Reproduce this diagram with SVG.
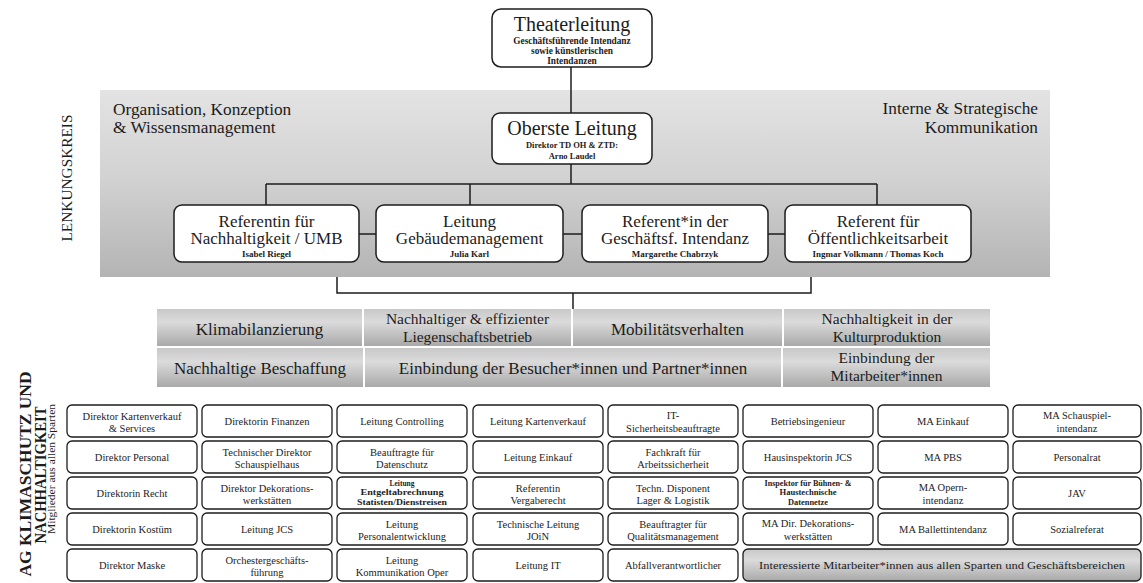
<svg xmlns="http://www.w3.org/2000/svg" width="1143" height="583" viewBox="0 0 1143 583">
<defs>
<linearGradient id="band" x1="0" y1="0" x2="0" y2="1">
<stop offset="0" stop-color="#e3e3e3"/>
<stop offset="0.45" stop-color="#d3d3d3"/>
<stop offset="1" stop-color="#b4b4b4"/>
</linearGradient>
<linearGradient id="cell" x1="0" y1="0" x2="0" y2="1">
<stop offset="0" stop-color="#c8c8c8"/>
<stop offset="0.35" stop-color="#dbdbdb"/>
<stop offset="1" stop-color="#a9a9a9"/>
</linearGradient>
<style>
text{font-family:"Liberation Serif","DejaVu Serif",serif;fill:#1c1c1c}
.box{fill:#fff;stroke:#1c1c1c;stroke-width:1.5}
.gb{fill:#fff;stroke:#1c1c1c;stroke-width:1.3}
.gg{fill:url(#cell);stroke:#1c1c1c;stroke-width:1.3}
.tc{fill:url(#cell)}
.t20{font-size:20px;text-anchor:middle}
.t16{font-size:17px;text-anchor:middle}
.sub{font-size:9.3px;font-weight:bold;text-anchor:middle}
.nm{font-size:8.5px;font-weight:bold;text-anchor:middle}
.nm4{font-size:9px;font-weight:bold;text-anchor:middle}
.g{font-size:10.5px;text-anchor:middle}
.gs{font-size:7.5px;font-weight:bold;text-anchor:middle}
.tp{font-size:17px;text-anchor:middle}
.tp2{font-size:15.5px;text-anchor:middle}
.side{font-size:17.3px}
.conn path{stroke:#1c1c1c;stroke-width:1.5;fill:none}
</style>
</defs>
<rect width="1143" height="583" fill="#fff"/>
<rect id="lenkungskreis-band" x="100" y="90" width="950" height="187" fill="url(#band)"/>

<g id="labels">
<text class="side" x="113" y="115">Organisation, Konzeption</text>
<text class="side" x="113" y="133">&amp; Wissensmanagement</text>
<text class="side" x="1038" y="114" text-anchor="end">Interne &amp; Strategische</text>
<text class="side" x="1038" y="133" text-anchor="end">Kommunikation</text>
<text transform="translate(72,178) rotate(-90)" font-size="15.5" text-anchor="middle" textLength="127" lengthAdjust="spacingAndGlyphs">LENKUNGSKREIS</text>
<text transform="translate(31,474) rotate(-90)" font-size="16.5" font-weight="bold" text-anchor="middle" textLength="205" lengthAdjust="spacingAndGlyphs">AG KLIMASCHUTZ UND</text>
<text transform="translate(46,475) rotate(-90)" font-size="16.5" font-weight="bold" text-anchor="middle" textLength="137" lengthAdjust="spacingAndGlyphs">NACHHALTIGKEIT</text>
<text transform="translate(55,469) rotate(-90)" font-size="9.5" text-anchor="middle" textLength="130" lengthAdjust="spacingAndGlyphs">Mitglieder aus allen Sparten</text>
</g>

<g class="conn" id="connectors">
<path d="M571 67 V113"/>
<path d="M571 164 V184"/>
<path d="M266 184 H877"/>
<path d="M266 184 V205 M470 184 V205 M877 184 V205"/>
<path d="M359 234 H376 M563 234 H582 M768 234 H785"/>
<path d="M337 277 V293 H811 V277"/>
<path d="M573 293 V309"/>
</g>

<g id="theaterleitung">
<rect class="box" x="492" y="9" width="160" height="58" rx="9"/>
<text class="t20" x="572" y="31">Theaterleitung</text>
<text class="sub" x="572" y="43.5">Geschäftsführende Intendanz</text>
<text class="sub" x="572" y="53.5">sowie künstlerischen</text>
<text class="sub" x="572" y="63.5">Intendanzen</text>
</g>

<g id="oberste-leitung">
<rect class="box" x="492" y="113" width="160" height="51" rx="8"/>
<text class="t20" x="572" y="134.5">Oberste Leitung</text>
<text class="nm" x="572" y="147.5">Direktor TD OH &amp; ZTD:</text>
<text class="nm" x="572" y="158.5">Arno Laudel</text>
</g>

<g id="ref-nachhaltigkeit">
<rect class="box" x="174" y="205" width="185" height="57" rx="8"/>
<text class="t16" x="266.5" y="226.5">Referentin für</text>
<text class="t16" x="266.5" y="244">Nachhaltigkeit / UMB</text>
<text class="nm4" x="266.5" y="256.5">Isabel Riegel</text>
</g>
<g id="leitung-gebaeude">
<rect class="box" x="376" y="205" width="187" height="57" rx="8"/>
<text class="t16" x="469.5" y="226.5">Leitung</text>
<text class="t16" x="469.5" y="244">Gebäudemanagement</text>
<text class="nm4" x="469.5" y="256.5">Julia Karl</text>
</g>
<g id="ref-intendanz">
<rect class="box" x="582" y="205" width="186" height="57" rx="8"/>
<text class="t16" x="675" y="226.5">Referent*in der</text>
<text class="t16" x="675" y="244">Geschäftsf. Intendanz</text>
<text class="nm4" x="675" y="256.5">Margarethe Chabrzyk</text>
</g>
<g id="ref-oeffentlichkeit">
<rect class="box" x="785" y="205" width="186" height="57" rx="8"/>
<text class="t16" x="878" y="226.5">Referent für</text>
<text class="t16" x="878" y="244">Öffentlichkeitsarbeit</text>
<text class="nm4" x="878" y="256.5">Ingmar Volkmann / Thomas Koch</text>
</g>

<g id="topics">
<g id="topic-klima"><rect class="tc" x="157" y="309" width="205" height="37"/><text class="tp" x="259.5" y="335">Klimabilanzierung</text></g>
<g id="topic-liegenschaft"><rect class="tc" x="364" y="309" width="207" height="37"/><text class="tp2" x="467.5" y="324">Nachhaltiger &amp; effizienter</text><text class="tp2" x="467.5" y="341.5">Liegenschaftsbetrieb</text></g>
<g id="topic-mobilitaet"><rect class="tc" x="573" y="309" width="209" height="37"/><text class="tp" x="677.5" y="335">Mobilitätsverhalten</text></g>
<g id="topic-kultur"><rect class="tc" x="784" y="309" width="206" height="37"/><text class="tp2" x="887" y="324">Nachhaltigkeit in der</text><text class="tp2" x="887" y="341.5">Kulturproduktion</text></g>
<g id="topic-beschaffung"><rect class="tc" x="157" y="348" width="206" height="39"/><text class="tp" x="260" y="373.5">Nachhaltige Beschaffung</text></g>
<g id="topic-besucher"><rect class="tc" x="365" y="348" width="416" height="39"/><text class="tp" x="573" y="373.5">Einbindung der Besucher*innen und Partner*innen</text></g>
<g id="topic-mitarbeiter"><rect class="tc" x="783" y="348" width="207" height="39"/><text class="tp2" x="886.5" y="363">Einbindung der</text><text class="tp2" x="886.5" y="380.5">Mitarbeiter*innen</text></g>
</g>

<g id="ag-members">
<!-- row 1 -->
<g id="m-1-1"><rect class="gb" x="67" y="405" width="130" height="32" rx="5"/><text class="g" x="132" y="420">Direktor Kartenverkauf</text><text class="g" x="132" y="431.5">&amp; Services</text></g>
<g id="m-1-2"><rect class="gb" x="202" y="405" width="130" height="32" rx="5"/><text class="g" x="267" y="425">Direktorin Finanzen</text></g>
<g id="m-1-3"><rect class="gb" x="337" y="405" width="130" height="32" rx="5"/><text class="g" x="402" y="425">Leitung Controlling</text></g>
<g id="m-1-4"><rect class="gb" x="473" y="405" width="130" height="32" rx="5"/><text class="g" x="538" y="425">Leitung Kartenverkauf</text></g>
<g id="m-1-5"><rect class="gb" x="608" y="405" width="130" height="32" rx="5"/><text class="g" x="673" y="419">IT-</text><text class="g" x="673" y="431.5">Sicherheitsbeauftragte</text></g>
<g id="m-1-6"><rect class="gb" x="743" y="405" width="130" height="32" rx="5"/><text class="g" x="808" y="425">Betriebsingenieur</text></g>
<g id="m-1-7"><rect class="gb" x="878" y="405" width="130" height="32" rx="5"/><text class="g" x="943" y="425">MA Einkauf</text></g>
<g id="m-1-8"><rect class="gb" x="1013" y="405" width="128" height="32" rx="5"/><text class="g" x="1077" y="419">MA Schauspiel-</text><text class="g" x="1077" y="431.5">intendanz</text></g>
<!-- row 2 -->
<g id="m-2-1"><rect class="gb" x="67" y="441" width="130" height="32" rx="5"/><text class="g" x="132" y="461">Direktor Personal</text></g>
<g id="m-2-2"><rect class="gb" x="202" y="441" width="130" height="32" rx="5"/><text class="g" x="267" y="456">Technischer Direktor</text><text class="g" x="267" y="467.5">Schauspielhaus</text></g>
<g id="m-2-3"><rect class="gb" x="337" y="441" width="130" height="32" rx="5"/><text class="g" x="402" y="456">Beauftragte für</text><text class="g" x="402" y="467.5">Datenschutz</text></g>
<g id="m-2-4"><rect class="gb" x="473" y="441" width="130" height="32" rx="5"/><text class="g" x="538" y="461">Leitung Einkauf</text></g>
<g id="m-2-5"><rect class="gb" x="608" y="441" width="130" height="32" rx="5"/><text class="g" x="673" y="456">Fachkraft für</text><text class="g" x="673" y="467.5">Arbeitssicherheit</text></g>
<g id="m-2-6"><rect class="gb" x="743" y="441" width="130" height="32" rx="5"/><text class="g" x="808" y="461">Hausinspektorin JCS</text></g>
<g id="m-2-7"><rect class="gb" x="878" y="441" width="130" height="32" rx="5"/><text class="g" x="943" y="461">MA PBS</text></g>
<g id="m-2-8"><rect class="gb" x="1013" y="441" width="128" height="32" rx="5"/><text class="g" x="1077" y="461">Personalrat</text></g>
<!-- row 3 -->
<g id="m-3-1"><rect class="gb" x="67" y="477" width="130" height="32" rx="5"/><text class="g" x="132" y="497">Direktorin Recht</text></g>
<g id="m-3-2"><rect class="gb" x="202" y="477" width="130" height="32" rx="5"/><text class="g" x="267" y="492">Direktor Dekorations-</text><text class="g" x="267" y="503.5">werkstätten</text></g>
<g id="m-3-3"><rect class="gb" x="337" y="477" width="130" height="32" rx="5"/><text class="gs" x="402" y="485.5" textLength="25" lengthAdjust="spacingAndGlyphs">Leitung</text><text class="gs" x="402" y="495" textLength="83" lengthAdjust="spacingAndGlyphs">Entgeltabrechnung</text><text class="gs" x="402" y="504.5" textLength="90" lengthAdjust="spacingAndGlyphs">Statisten/Dienstreisen</text></g>
<g id="m-3-4"><rect class="gb" x="473" y="477" width="130" height="32" rx="5"/><text class="g" x="538" y="492">Referentin</text><text class="g" x="538" y="503.5">Vergaberecht</text></g>
<g id="m-3-5"><rect class="gb" x="608" y="477" width="130" height="32" rx="5"/><text class="g" x="673" y="492">Techn. Disponent</text><text class="g" x="673" y="503.5">Lager &amp; Logistik</text></g>
<g id="m-3-6"><rect class="gb" x="743" y="477" width="130" height="32" rx="5"/><text class="gs" x="808" y="485.5" textLength="87" lengthAdjust="spacingAndGlyphs">Inspektor für Bühnen- &amp;</text><text class="gs" x="808" y="495" textLength="57" lengthAdjust="spacingAndGlyphs">Haustechnische</text><text class="gs" x="808" y="504.5" textLength="40" lengthAdjust="spacingAndGlyphs">Datennetze</text></g>
<g id="m-3-7"><rect class="gb" x="878" y="477" width="130" height="32" rx="5"/><text class="g" x="943" y="491">MA Opern-</text><text class="g" x="943" y="503.5">intendanz</text></g>
<g id="m-3-8"><rect class="gb" x="1013" y="477" width="128" height="32" rx="5"/><text class="g" x="1077" y="497">JAV</text></g>
<!-- row 4 -->
<g id="m-4-1"><rect class="gb" x="67" y="513" width="130" height="32" rx="5"/><text class="g" x="132" y="533">Direktorin Kostüm</text></g>
<g id="m-4-2"><rect class="gb" x="202" y="513" width="130" height="32" rx="5"/><text class="g" x="267" y="533">Leitung JCS</text></g>
<g id="m-4-3"><rect class="gb" x="337" y="513" width="130" height="32" rx="5"/><text class="g" x="402" y="528">Leitung</text><text class="g" x="402" y="539.5">Personalentwicklung</text></g>
<g id="m-4-4"><rect class="gb" x="473" y="513" width="130" height="32" rx="5"/><text class="g" x="538" y="528">Technische Leitung</text><text class="g" x="538" y="539.5">JOiN</text></g>
<g id="m-4-5"><rect class="gb" x="608" y="513" width="130" height="32" rx="5"/><text class="g" x="673" y="528">Beauftragter für</text><text class="g" x="673" y="539.5">Qualitätsmanagement</text></g>
<g id="m-4-6"><rect class="gb" x="743" y="513" width="130" height="32" rx="5"/><text class="g" x="808" y="527">MA Dir. Dekorations-</text><text class="g" x="808" y="539.5">werkstätten</text></g>
<g id="m-4-7"><rect class="gb" x="878" y="513" width="130" height="32" rx="5"/><text class="g" x="943" y="533">MA Ballettintendanz</text></g>
<g id="m-4-8"><rect class="gb" x="1013" y="513" width="128" height="32" rx="5"/><text class="g" x="1077" y="533">Sozialreferat</text></g>
<!-- row 5 -->
<g id="m-5-1"><rect class="gb" x="67" y="549" width="130" height="32" rx="5"/><text class="g" x="132" y="569">Direktor Maske</text></g>
<g id="m-5-2"><rect class="gb" x="202" y="549" width="130" height="32" rx="5"/><text class="g" x="267" y="564">Orchestergeschäfts-</text><text class="g" x="267" y="575.5">führung</text></g>
<g id="m-5-3"><rect class="gb" x="337" y="549" width="130" height="32" rx="5"/><text class="g" x="402" y="564">Leitung</text><text class="g" x="402" y="575.5">Kommunikation Oper</text></g>
<g id="m-5-4"><rect class="gb" x="473" y="549" width="130" height="32" rx="5"/><text class="g" x="538" y="569">Leitung IT</text></g>
<g id="m-5-5"><rect class="gb" x="608" y="549" width="130" height="32" rx="5"/><text class="g" x="673" y="569">Abfallverantwortlicher</text></g>
<g id="m-5-6"><rect class="gg" x="743" y="549" width="398" height="32" rx="5"/><text class="g" x="942" y="569" textLength="366" lengthAdjust="spacingAndGlyphs">Interessierte Mitarbeiter*innen aus allen Sparten und Geschäftsbereichen</text></g>
</g>
</svg>
